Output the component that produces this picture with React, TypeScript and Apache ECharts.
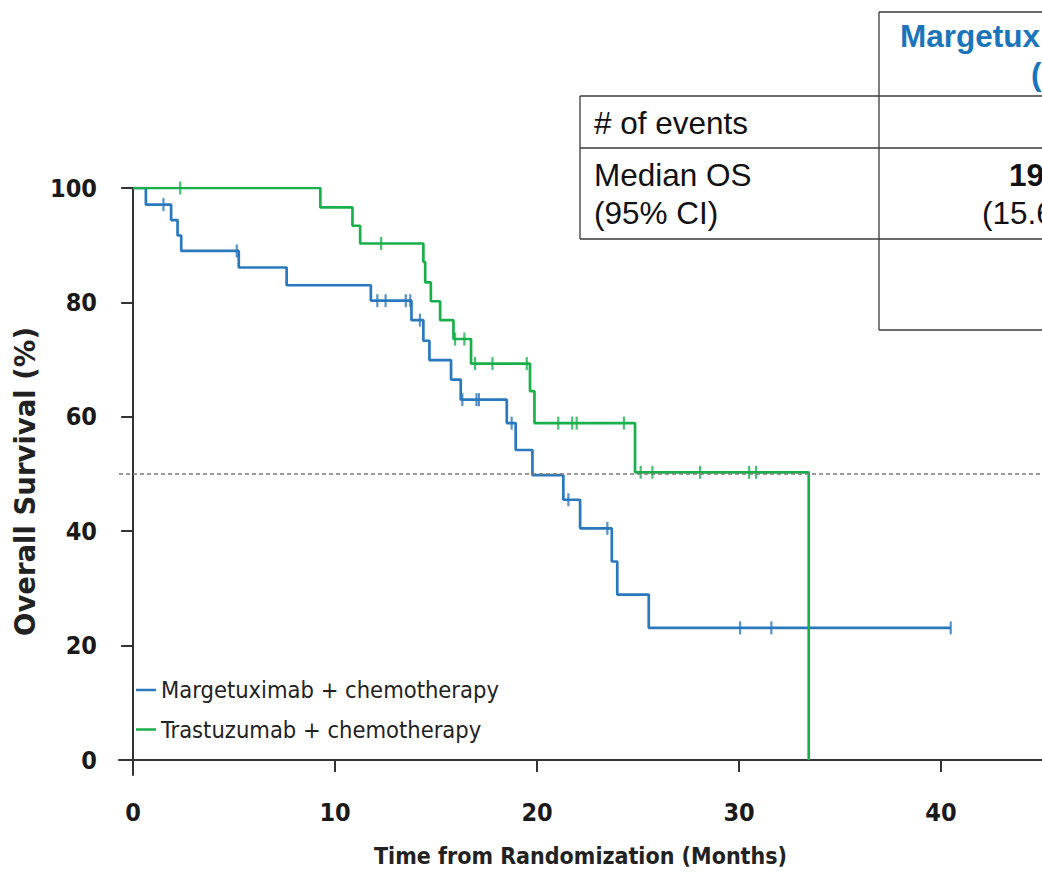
import React, { useEffect, useRef } from "react";
import * as echarts from "echarts";

// Kaplan-Meier step data (time in months, survival %)
const blueTimes = [0, 0.63, 1.88, 2.2, 2.38, 5.23, 7.6, 11.77, 13.78, 14.37, 14.67, 15.74, 16.22, 18.5, 18.94, 19.77, 21.3, 22.13, 23.7, 23.97, 25.53, 40.48];
const blueSurv = [100, 97.1, 94.4, 91.7, 89.0, 86.1, 83.0, 80.3, 76.9, 73.3, 69.9, 66.5, 63.0, 58.9, 54.2, 49.8, 45.5, 40.5, 34.7, 28.9, 23.1, 23.1];
const blueCensor = [1.5, 5.13, 12.09, 12.5, 13.5, 13.72, 14.2, 16.3, 17.0, 17.12, 18.74, 21.55, 23.48, 30.05, 31.6, 40.48];

const greenTimes = [0, 9.27, 10.86, 11.24, 14.37, 14.46, 14.74, 15.2, 15.86, 16.73, 19.65, 19.87, 24.85, 33.45];
const greenSurv = [100, 96.6, 93.4, 90.3, 87.1, 83.5, 80.2, 76.9, 73.6, 69.3, 64.5, 58.9, 50.3, 0];
const greenCensor = [2.33, 12.28, 15.94, 16.4, 16.93, 17.79, 19.49, 21.05, 21.74, 21.96, 24.3, 25.13, 25.71, 28.07, 30.5, 30.84];

const seriesNames = ["Margetuximab + chemotherapy", "Trastuzumab + chemotherapy"];
const xTicks = [0, 10, 20, 30, 40];
const yTicks = [0, 20, 40, 60, 80, 100];
const medianLevel = 50;

const BLUE = "#2a78bd";
const GREEN = "#19b04b";

function survAt(times: number[], surv: number[], t: number) {
  let s = surv[0];
  for (let i = 0; i < times.length; i++) {
    if (times[i] <= t) s = surv[i];
  }
  return s;
}

export default function App() {
  const ref = useRef<HTMLDivElement>(null);
  useEffect(() => {
    document.body.style.margin = "0";
    const chart = echarts.init(ref.current!, undefined, { renderer: "svg" });
    const narrow = "'DejaVu Sans Condensed', sans-serif";
    const tableFont = "'Liberation Sans', Arial, sans-serif";
    const tableLine = { stroke: "#3a3a3a", lineWidth: 1.3 };
    const line = (x1: number, y1: number, x2: number, y2: number) => ({
      type: "line",
      shape: { x1, y1, x2, y2 },
      style: tableLine,
      silent: true,
    });
    const txt = (x: number, y: number, text: string, opts: any = {}) => ({
      type: "text",
      x,
      y,
      style: {
        text,
        fontFamily: tableFont,
        fontSize: 31.5,
        fill: "#111",
        textVerticalAlign: "middle",
        textAlign: "left",
        ...opts,
      },
      silent: true,
    });
    chart.setOption({
      animation: false,
      backgroundColor: "#ffffff",
      grid: { left: 119, right: 0, top: 188, bottom: 97 },
      legend: {
        data: seriesNames,
        orient: "vertical",
        left: 136,
        top: 678,
        padding: 0,
        icon: "rect",
        itemWidth: 20,
        itemHeight: 2.5,
        itemGap: 15.5,
        textStyle: { fontFamily: narrow, fontSize: 23.5, color: "#222" },
      },
      xAxis: {
        type: "value",
        min: -0.7,
        max: 45,
        splitLine: { show: false },
        axisLine: { lineStyle: { color: "#333", width: 2 } },
        axisTick: { customValues: xTicks, length: 12, lineStyle: { color: "#333", width: 2 } },
        axisLabel: {
          customValues: xTicks,
          margin: 25,
          fontFamily: narrow,
          fontWeight: "bold",
          fontSize: 25,
          color: "#1a1a1a",
        },
        name: "Time from Randomization (Months)",
        nameLocation: "middle",
        nameGap: 69,
        nameTextStyle: {
          fontFamily: narrow,
          fontWeight: "bold",
          fontSize: 23,
          color: "#222",
        },
      },
      yAxis: {
        type: "value",
        min: -2.62,
        max: 100,
        splitLine: { show: false },
        axisLine: { show: true, lineStyle: { color: "#333", width: 2 } },
        axisTick: { show: true, customValues: yTicks, length: 12, lineStyle: { color: "#333", width: 2 } },
        axisLabel: {
          customValues: yTicks,
          margin: 22,
          fontFamily: narrow,
          fontWeight: "bold",
          fontSize: 25,
          color: "#1a1a1a",
        },
        name: "Overall Survival (%)",
        nameLocation: "middle",
        nameGap: 79,
        nameRotate: 90,
        nameTextStyle: {
          fontFamily: "'DejaVu Sans', sans-serif",
          fontWeight: "bold",
          fontSize: 27.5,
          color: "#222",
        },
      },
      series: [
        {
          name: seriesNames[0],
          type: "line",
          step: "end",
          showSymbol: false,
          symbol: "none",
          lineStyle: { color: BLUE, width: 2.7 },
          itemStyle: { color: BLUE },
          data: blueTimes.map((t, i) => [t, blueSurv[i]]),
          z: 2,
        },
        {
          name: "Margetuximab censored",
          type: "scatter",
          symbol: "rect",
          symbolSize: [2.2, 13],
          itemStyle: { color: BLUE },
          data: blueCensor.map((t) => [t, survAt(blueTimes, blueSurv, t)]),
          z: 2,
        },
        {
          name: seriesNames[1],
          type: "line",
          step: "end",
          showSymbol: false,
          symbol: "none",
          lineStyle: { color: GREEN, width: 2.7 },
          itemStyle: { color: GREEN },
          data: greenTimes.map((t, i) => [t, greenSurv[i]]),
          z: 3,
        },
        {
          name: "Trastuzumab censored",
          type: "scatter",
          symbol: "rect",
          symbolSize: [2.2, 13],
          itemStyle: { color: GREEN },
          data: greenCensor.map((t) => [t, survAt(greenTimes, greenSurv, t)]),
          z: 3,
        },
        {
          name: "Median",
          type: "line",
          symbol: "none",
          silent: true,
          lineStyle: { color: "#7a7a7a", width: 1.6, type: [4, 3] },
          data: [[-0.7, medianLevel], [45, medianLevel]],
          z: 4,
        },
      ],
      graphic: [
        line(879, 12, 1042, 12),
        line(580, 96, 1042, 96),
        line(580, 148, 1042, 148),
        line(580, 239, 1042, 239),
        line(879, 330, 1042, 330),
        line(580, 96, 580, 239),
        line(879, 12, 879, 330),
        txt(900, 36, "Margetux", { fontWeight: "bold", fontSize: 31.5, fill: "#1a75bb" }),
        txt(1031, 74, "(", { fontWeight: "bold", fontSize: 31.5, fill: "#1a75bb" }),
        txt(594, 123, "# of events"),
        txt(594, 175, "Median OS"),
        txt(594, 213, "(95% CI)"),
        txt(1009, 175, "19", { fontWeight: "bold" }),
        txt(982, 213, "(15.6"),
      ],
    });
    return () => chart.dispose();
  }, []);
  return (
    <div
      ref={ref}
      style={{ position: "absolute", left: 0, top: 0, width: 1042, height: 872 }}
    />
  );
}
